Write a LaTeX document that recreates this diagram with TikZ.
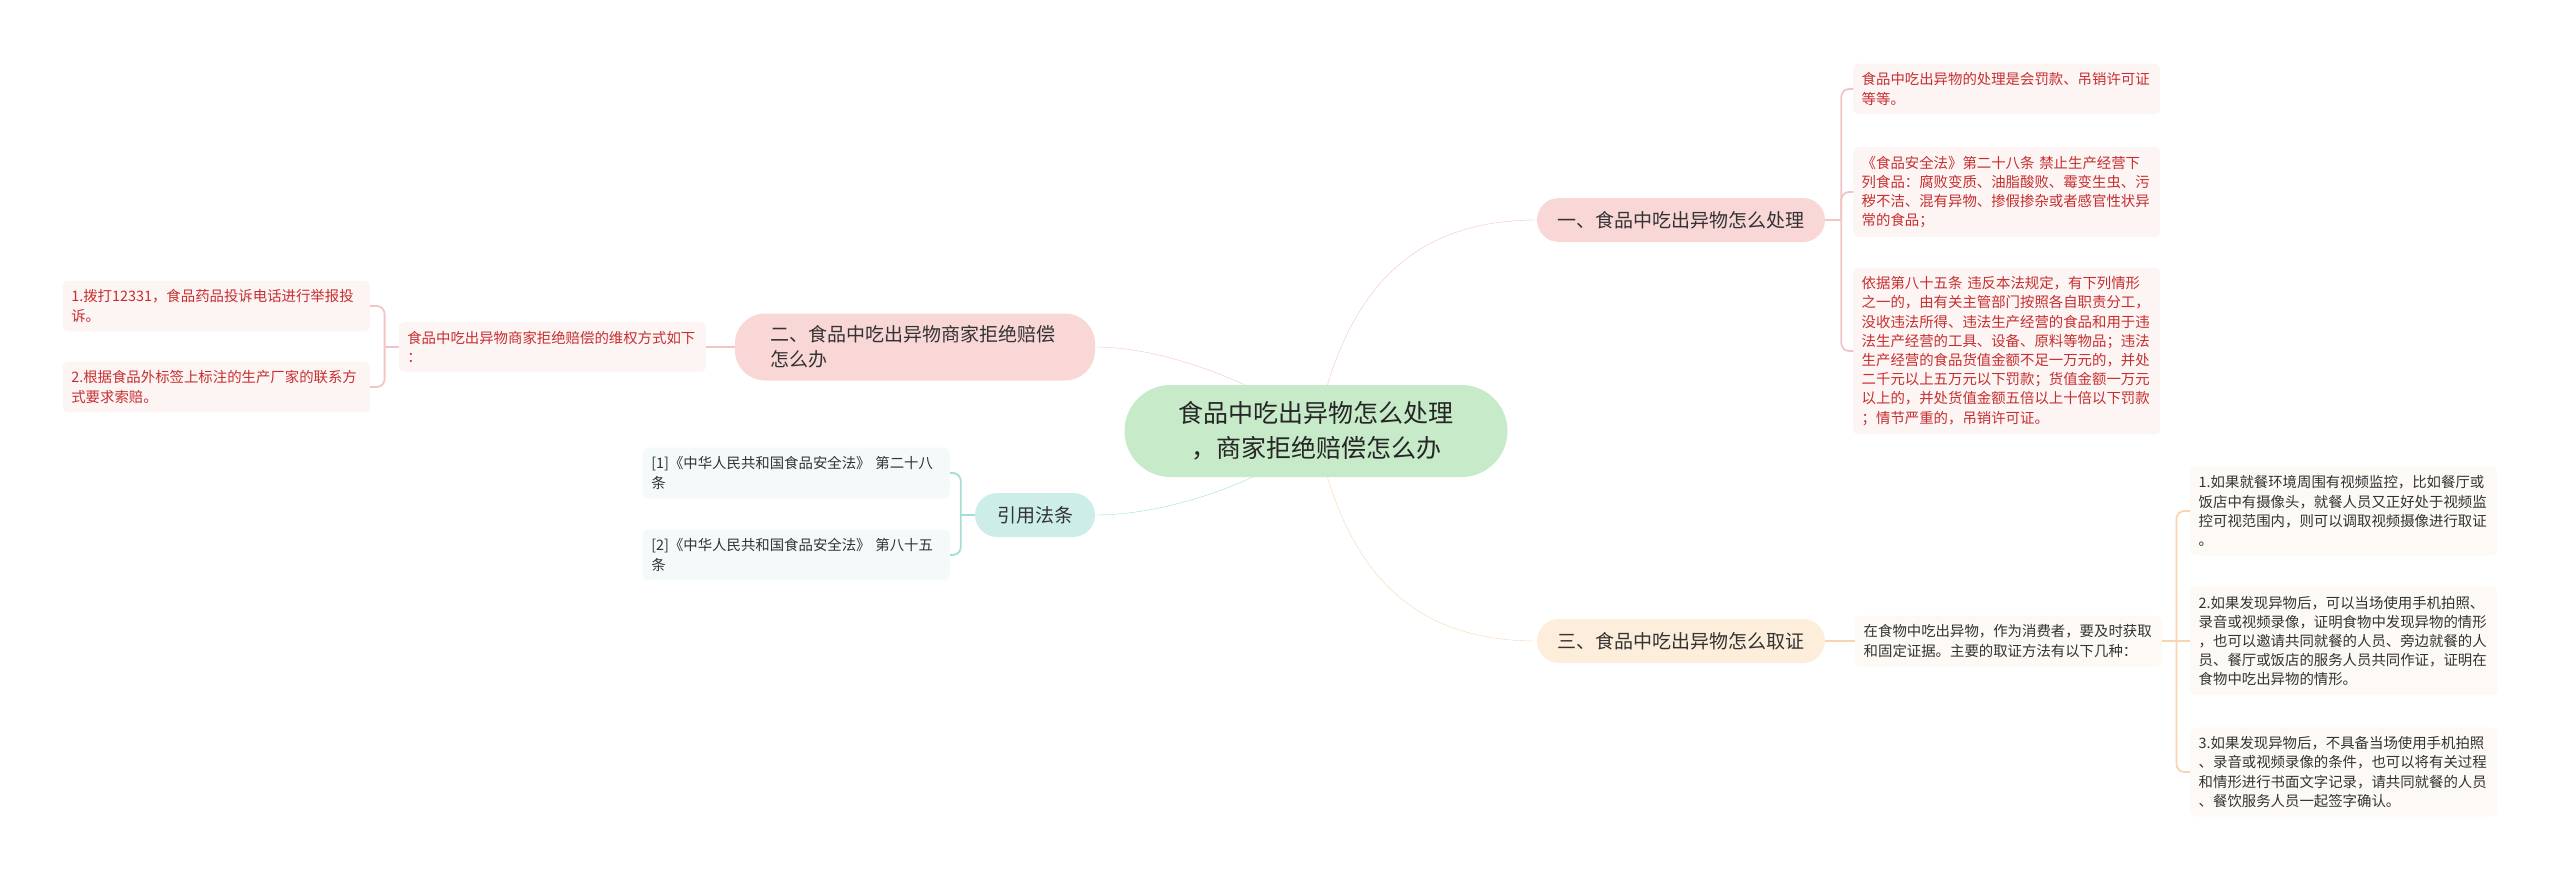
\documentclass[tikz,border=0pt]{standalone}
\usepackage{fontspec}
\setmainfont{Noto Sans CJK SC}
\usetikzlibrary{backgrounds}
\definecolor{rootfill}{HTML}{C7EAC9}
\definecolor{pinkfill}{HTML}{FAD7D7}
\definecolor{pinkline}{HTML}{F2C4C4}
\definecolor{pinkleaf}{HTML}{FDF4F4}
\definecolor{redtext}{HTML}{C62F2F}
\definecolor{tealfill}{HTML}{CDEEE8}
\definecolor{tealline}{HTML}{A4DDD3}
\definecolor{tealleaf}{HTML}{F4F9FA}
\definecolor{peachfill}{HTML}{FDEEDC}
\definecolor{peachline}{HTML}{F8D4B0}
\definecolor{peachleaf}{HTML}{FDF9F4}
\definecolor{darktext}{HTML}{333333}
\begin{document}
\begin{tikzpicture}[x=1pt,y=-1pt,
  topic/.style={fill=rootfill,rounded corners=46pt,minimum width=383pt,minimum height=92pt,
    align=center,font=\fontsize{25}{35}\selectfont,text=black!85},
  subtopic/.style={rounded corners=22pt,minimum height=44pt,font=\fontsize{19}{25}\selectfont,text=darktext},
  leaf/.style={rounded corners=5pt,text width=290pt,align=left,inner xsep=8.5pt,inner ysep=9pt,
    font=\fontsize{14.4}{19.2}\selectfont},
  redleaf/.style={leaf,fill=pinkleaf,text=redtext},
  greyleaf/.style={leaf,fill=tealleaf,text=darktext},
  creamleaf/.style={leaf,fill=peachleaf,text=darktext},
  link/.style={line width=1.8pt,rounded corners=8pt}]
  \useasboundingbox (0,0) rectangle (2560,881);
  % centre and main branches
  \node[topic] (root) at (1316,431) {食品中吃出异物怎么处理\\，商家拒绝赔偿怎么办};
  \node[subtopic,fill=pinkfill,minimum width=288pt] (b1) at (1681,220) {一、食品中吃出异物怎么处理};
  \node[subtopic,fill=pinkfill,text width=290pt,align=left,inner xsep=35pt,minimum height=67pt,
    rounded corners=30pt] (b2) at (915,347) {二、食品中吃出异物商家拒绝赔偿\\怎么办};
  \node[subtopic,fill=tealfill,minimum width=120pt] (b4) at (1035,515) {引用法条};
  \node[subtopic,fill=peachfill,minimum width=288pt] (b3) at (1681,641) {三、食品中吃出异物怎么取证};
  % leaves of branch one
  \node[redleaf,anchor=west] (l1a) at (1853,89) {食品中吃出异物的处理是会罚款、吊销许可证\\等等。};
  \node[redleaf,anchor=west] (l1b) at (1853,192) {《食品安全法》第二十八条~禁止生产经营下\\列食品：腐败变质、油脂酸败、霉变生虫、污\\秽不洁、混有异物、掺假掺杂或者感官性状异\\常的食品；};
  \node[redleaf,anchor=west] (l1c) at (1853,351) {依据第八十五条~违反本法规定，有下列情形\\之一的，由有关主管部门按照各自职责分工，\\没收违法所得、违法生产经营的食品和用于违\\法生产经营的工具、设备、原料等物品；违法\\生产经营的食品货值金额不足一万元的，并处\\二千元以上五万元以下罚款；货值金额一万元\\以上的，并处货值金额五倍以上十倍以下罚款\\；情节严重的，吊销许可证。};
  % leaves of branch two
  \node[redleaf,anchor=east] (l2) at (706,347) {食品中吃出异物商家拒绝赔偿的维权方式如下\\：};
  \node[redleaf,anchor=east] (l2a) at (370,306) {1.拨打12331，食品药品投诉电话进行举报投\\诉。};
  \node[redleaf,anchor=east] (l2b) at (370,387) {2.根据食品外标签上标注的生产厂家的联系方\\式要求索赔。};
  % cited laws
  \node[greyleaf,anchor=east] (r1) at (950,473) {[1]《中华人民共和国食品安全法》~第二十八\\条};
  \node[greyleaf,anchor=east] (r2) at (950,555) {[2]《中华人民共和国食品安全法》~第八十五\\条};
  % leaves of branch three
  \node[creamleaf,anchor=west] (l3) at (1855,641) {在食物中吃出异物，作为消费者，要及时获取\\和固定证据。主要的取证方法有以下几种：};
  \node[creamleaf,anchor=west] (l3a) at (2190,511) {1.如果就餐环境周围有视频监控，比如餐厅或\\饭店中有摄像头，就餐人员又正好处于视频监\\控可视范围内，则可以调取视频摄像进行取证\\。};
  \node[creamleaf,anchor=west] (l3b) at (2190,641) {2.如果发现异物后，可以当场使用手机拍照、\\录音或视频录像，证明食物中发现异物的情形\\，也可以邀请共同就餐的人员、旁边就餐的人\\员、餐厅或饭店的服务人员共同作证，证明在\\食物中吃出异物的情形。};
  \node[creamleaf,anchor=west] (l3c) at (2190,772) {3.如果发现异物后，不具备当场使用手机拍照\\、录音或视频录像的条件，也可以将有关过程\\和情形进行书面文字记录，请共同就餐的人员\\、餐饮服务人员一起签字确认。};
  % curves from the centre
  \begin{scope}[on background layer,line width=2.5pt]
    \draw[pinkline] (root.center) .. controls (1346,281) and (1420,220) .. (b1.west);
    \draw[pinkline] (root.center) .. controls (1290,400) and (1180,347) .. (b2.east);
    \draw[tealline] (root.center) .. controls (1290,470) and (1180,515) .. (b4.east);
    \draw[peachline] (root.center) .. controls (1346,581) and (1420,641) .. (b3.west);
  \end{scope}
  % brackets to the leaves
  \coordinate (j1) at ([xshift=16pt]b1.east);
  \draw[link,pinkline] (b1.east) -- (j1);
  \foreach \n in {l1a,l1b,l1c}
    \draw[link,pinkline] (j1) |- (\n.west);
  \coordinate (j2) at ([xshift=-14pt]l2.west);
  \draw[link,pinkline] (b2.west) -- (l2.east);
  \draw[link,pinkline] (l2.west) -- (j2);
  \foreach \n in {l2a,l2b}
    \draw[link,pinkline] (j2) |- (\n.east);
  \coordinate (j4) at ([xshift=-14pt]b4.west);
  \draw[link,tealline] (b4.west) -- (j4);
  \foreach \n in {r1,r2}
    \draw[link,tealline] (j4) |- (\n.east);
  \coordinate (j3) at ([xshift=14pt]l3.east);
  \draw[link,peachline] (b3.east) -- (l3.west);
  \draw[link,peachline] (l3.east) -- (j3) -- (l3b.west);
  \foreach \n in {l3a,l3c}
    \draw[link,peachline] (j3) |- (\n.west);
\end{tikzpicture}
\end{document}
